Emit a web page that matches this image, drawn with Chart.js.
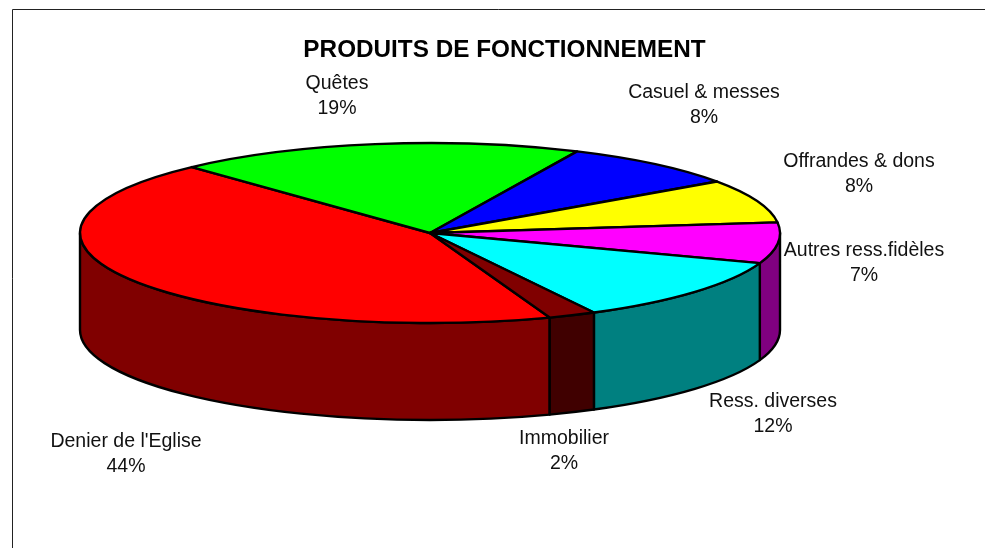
<!DOCTYPE html>
<html>
<head>
<meta charset="utf-8">
<title>Produits de fonctionnement</title>
<script src="https://cdn.jsdelivr.net/npm/chart.js@4"></script>
<style>
    html, body { margin: 0; padding: 0; background: #fff; overflow: hidden; }
    canvas { display: block; }
</style>
</head>
<body>
<canvas id="myChart" width="985" height="548"></canvas>
<script>
const categories = ['Denier de l\'Eglise', 'Quêtes', 'Casuel & messes', 'Offrandes & dons', 'Autres ress.fidèles', 'Ress. diverses', 'Immobilier'];
const values = [43.6, 18.8, 8.4, 7.8, 7.3, 11.8, 2.2];
const topColors = ['#ff0000', '#00ff00', '#0000ff', '#ffff00', '#ff00ff', '#00ffff', '#800000'];
const sideColors = ['#800000', '#008000', '#000080', '#808000', '#800080', '#008080', '#400000'];

// where each label sits (centre of the first line, second line below it)
const labelSpots = [[126, 442], [337, 84], [704, 93], [859, 162], [864, 251], [773, 402], [564, 439]];
const labelLineGap = 24.5;

// the tilted pie: ellipse of the top face and height of the wall
const pie = { x: 430, y: 233, rx: 350, ry: 90, depth: 97 };

const pie3d = {
    id: 'pie3d',
    // Chart.js works out the slice angles, this only paints them as a tilted disc
    beforeDatasetsDraw(chart) {
        const ctx = chart.ctx;
        const arcs = chart.getDatasetMeta(0).data;
        ctx.save();
        ctx.lineWidth = 2.4;
        ctx.lineJoin = 'round';
        ctx.strokeStyle = '#000';

        // front wall, only the part between 0 and 180 degrees shows
        arcs.forEach((arc, i) => {
            [0, 2 * Math.PI].forEach(turn => {
                const from = Math.max(arc.startAngle, turn);
                const to = Math.min(arc.endAngle, turn + Math.PI);
                if (to <= from) return;
                ctx.beginPath();
                ctx.ellipse(pie.x, pie.y, pie.rx, pie.ry, 0, from, to);
                ctx.ellipse(pie.x, pie.y + pie.depth, pie.rx, pie.ry, 0, to, from, true);
                ctx.closePath();
                ctx.fillStyle = sideColors[i];
                ctx.fill();
                ctx.stroke();
            });
        });

        // top face
        arcs.forEach((arc, i) => {
            ctx.beginPath();
            ctx.moveTo(pie.x, pie.y);
            ctx.ellipse(pie.x, pie.y, pie.rx, pie.ry, 0, arc.startAngle, arc.endAngle);
            ctx.closePath();
            ctx.fillStyle = topColors[i];
            ctx.fill();
            ctx.stroke();
        });
        ctx.restore();
        return false;
    },
    afterDraw(chart) {
        const ctx = chart.ctx;
        ctx.save();

        // frame runs off the right and bottom of the picture
        ctx.strokeStyle = '#222';
        ctx.lineWidth = 1;
        ctx.beginPath();
        ctx.moveTo(12.5, 548);
        ctx.lineTo(12.5, 9.5);
        ctx.lineTo(985, 9.5);
        ctx.stroke();

        ctx.fillStyle = '#111';
        ctx.font = '19.5px "Liberation Sans", Arial, sans-serif';
        ctx.textAlign = 'center';
        ctx.textBaseline = 'middle';
        categories.forEach((name, i) => {
            const [x, y] = labelSpots[i];
            ctx.fillText(name, x, y);
            ctx.fillText(Math.round(values[i]) + '%', x, y + labelLineGap);
        });
        ctx.restore();
    }
};

const config = {
    type: 'pie',
    data: {
        labels: categories,
        datasets: [{
            label: 'Produits de fonctionnement',
            data: values,
            backgroundColor: topColors
        }]
    },
    options: {
        responsive: false,
        animation: false,
        rotation: 160,
        layout: { padding: { left: 24 } },
        plugins: {
            legend: { display: false },
            tooltip: { enabled: false },
            title: {
                display: true,
                text: 'PRODUITS DE FONCTIONNEMENT',
                color: '#000',
                font: { family: '"Liberation Sans", Arial, sans-serif', size: 24.3, weight: 'bold' },
                padding: { top: 36, bottom: 10 }
            }
        }
    },
    plugins: [pie3d]
};

const myChart = new Chart(document.getElementById('myChart'), config);
</script>
</body>
</html>
